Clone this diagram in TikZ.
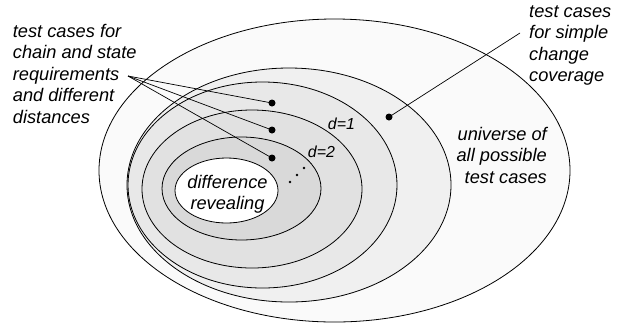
\documentclass[tikz,border=0pt]{standalone}
\usepackage{fontspec}
\setmainfont{Liberation Sans}
\usetikzlibrary{positioning}
\definecolor{universe}{HTML}{FAFAFA}
\definecolor{simplechg}{HTML}{F0F0F0}
\definecolor{chainst}{HTML}{E8E8E8}
\definecolor{distone}{HTML}{E1E1E1}
\definecolor{disttwo}{HTML}{D9D9D9}
\begin{document}
\begin{tikzpicture}[x=1bp,y=-1bp,font=\fontsize{18.3}{21.5}\selectfont\itshape,ring/.style={draw,line width=0.8bp},dot/.style={circle,fill,inner sep=0pt,minimum size=7bp},lbl/.style={inner sep=0pt}]
\useasboundingbox (0,0) rectangle (621,325);
% nested sets of test cases
\draw[ring,fill=universe] (334.5,170.5) ellipse [x radius=235.5,y radius=151.5];
\draw[ring,fill=simplechg] (289,185) ellipse [x radius=162,y radius=117];
\draw[ring,fill=chainst] (262.5,185) ellipse [x radius=134.5,y radius=103];
\draw[ring,fill=distone] (252,189) ellipse [x radius=110,y radius=79];
\draw[ring,fill=disttwo] (241.5,188.5) ellipse [x radius=79.5,y radius=51.5];
\draw[ring,fill=white] (226.5,190.5) ellipse [x radius=51.5,y radius=32.5];
\foreach \p in {(290,182),(297,175),(304,168)} \fill \p circle [radius=1.3];
% labels (base = last line)
\node[lbl,align=center,anchor=base] (revealing) at (227.5,209.5) {difference\\revealing};
\node[lbl,anchor=base,font=\fontsize{16}{18}\selectfont\itshape] (dOne) at (341.5,129) {d=1};
\node[lbl,anchor=base,font=\fontsize{16}{18}\selectfont\itshape] (dTwo) at (321.5,157) {d=2};
\node[lbl,align=right,anchor=base east] (universe) at (547,183) {universe of\\all possible\\test cases};
\node[lbl,align=left,anchor=base west] (chainlbl) at (12.7,123) {test cases for\\chain and state\\requirements\\and different\\distances};
\node[lbl,align=left,anchor=base west] (simplelbl) at (529,81.5) {test cases\\for simple\\change\\coverage};
% leaders
\node[dot] (chainA) at (272,103) {};
\node[dot] (chainB) at (272,130) {};
\node[dot] (chainC) at (272,158) {};
\node[dot] (simpleA) at (389,117) {};
\coordinate (chainfoot) at (128,76);
\coordinate (simplefoot) at (520,33);
\foreach \d in {chainA,chainB,chainC} \draw[line width=0.7bp] (chainfoot)--(\d.center);
\draw[line width=0.7bp] (simplefoot)--(simpleA.center);
\end{tikzpicture}
\end{document}
